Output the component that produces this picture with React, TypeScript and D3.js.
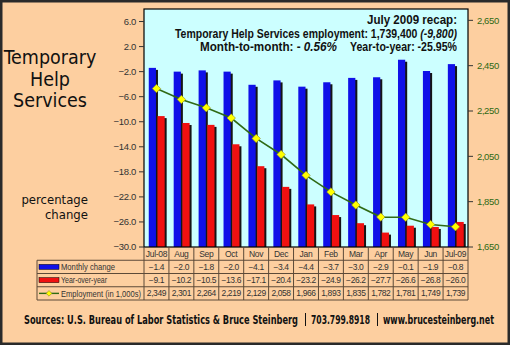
import React from "react";
import * as d3 from "d3";

const categories = ["Jul-08", "Aug", "Sep", "Oct", "Nov", "Dec", "Jan", "Feb", "Mar", "Apr", "May", "Jun", "Jul-09"];
const monthlyChange = [-1.4, -2.0, -1.8, -2.0, -4.1, -3.4, -4.4, -3.7, -3.0, -2.9, -0.1, -1.9, -0.8];
const yearOverYear = [-9.1, -10.2, -10.5, -13.6, -17.1, -20.4, -23.2, -24.9, -26.2, -27.7, -26.6, -26.8, -26.0];
const employment = [2349, 2301, 2264, 2219, 2129, 2058, 1966, 1893, 1835, 1782, 1781, 1749, 1739];
const leftTicks = [6, 2, -2, -6, -10, -14, -18, -22, -26, -30];
const rightTicks = [1650, 1850, 2050, 2250, 2450, 2650];
const seriesNames = ["Monthly change", "Year-over-year", "Employment (in 1,000s)"];

const W = 510;
const H = 345;
const P = { left: 144, right: 468, top: 9, bottom: 247 };
const ROW = 13.25;

const PEACH = "#FDCFA0";
const PLOTBG = "#CCFFFF";
const BLUE = "#1010E8";
const RED = "#F01010";
const GREEN = "#2F6A14";
const TABLE_LINE = "#5C4A38";
const ARIAL = "'Liberation Sans', Arial, sans-serif";
const SANS = "'DejaVu Sans Condensed', 'DejaVu Sans', sans-serif";

export default function App() {
  const x = d3.scaleBand<string>().domain(categories).range([P.left, P.right]);
  const yL = d3.scaleLinear().domain([-30, 8]).range([P.bottom, P.top]);
  const yR = d3.scaleLinear().domain([1650, 2700]).range([P.bottom, P.top]);
  const bw = x.bandwidth();
  const barW = 7.2;
  const cx = (c: string) => (x(c) as number) + bw / 2;
  const fmt1 = d3.format(".1f");
  const fmtC = d3.format(",");

  const line = d3
    .line<number>()
    .x((_, i) => cx(categories[i]))
    .y((d) => yR(d));

  const rowTops = [0, 1, 2, 3, 4].map((i) => P.bottom + i * ROW);
  const legendLeft = 37;
  const legendWidths = [54, 46, 80];

  const diamond = (px: number, py: number, r: number) =>
    `M${px},${py - r}L${px + r},${py}L${px},${py + r}L${px - r},${py}Z`;

  const rowValues = [
    monthlyChange.map(fmt1),
    yearOverYear.map(fmt1),
    employment.map(fmtC),
  ];

  return (
    <svg
      width={W}
      height={H}
      style={{ position: "absolute", left: 0, top: 0, display: "block" }}
    >
      <defs>
        <clipPath id="plotclip">
          <rect x={P.left} y={P.top} width={P.right - P.left} height={P.bottom - P.top} />
        </clipPath>
      </defs>
      <rect x={1.25} y={1.25} width={W - 2.5} height={H - 2.5} fill={PEACH} stroke="#2a2a2a" strokeWidth={2.5} />

      {/* plot area */}
      <rect x={P.left} y={P.top} width={P.right - P.left} height={P.bottom - P.top} fill={PLOTBG} />

      <g clipPath="url(#plotclip)">
        {categories.map((c, i) => {
          const xc = cx(c);
          const yb = yL(monthlyChange[i]);
          const yr = yL(yearOverYear[i]);
          return (
            <g key={c}>
              <rect x={xc - barW - 0.5 + 2} y={yb + 2} width={barW} height={P.bottom - yb} fill="#151515" />
              <rect x={xc - barW - 0.5} y={yb} width={barW} height={P.bottom - yb} fill={BLUE} />
              <rect x={xc + 1 + 2} y={yr + 2} width={barW} height={P.bottom - yr} fill="#151515" />
              <rect x={xc + 1} y={yr} width={barW} height={P.bottom - yr} fill={RED} />
            </g>
          );
        })}
        <path d={line(employment) || ""} fill="none" stroke={GREEN} strokeWidth={1.6} />
        {employment.map((v, i) => (
          <path
            key={i}
            d={diamond(cx(categories[i]), yR(v), 4.2)}
            fill="#FFFF00"
            stroke="#8A8A20"
            strokeWidth={0.6}
          />
        ))}
      </g>
      <rect x={P.left} y={P.top} width={P.right - P.left} height={P.bottom - P.top} fill="none" stroke="#000" strokeWidth={1.2} />

      {/* left axis */}
      {leftTicks.map((t) => (
        <g key={t}>
          <line x1={P.left - 5} x2={P.left} y1={yL(t)} y2={yL(t)} stroke="#333" strokeWidth={1} />
          <text
            x={P.left - 8}
            y={yL(t)}
            dy="0.35em"
            textAnchor="end"
            fontFamily={ARIAL}
            fontSize={9.5}
            letterSpacing={-0.3}
            fill="#333"
          >
            {fmt1(t)}
          </text>
        </g>
      ))}

      {/* right axis */}
      {rightTicks.map((t) => (
        <g key={t}>
          <line x1={P.right} x2={P.right + 5} y1={yR(t)} y2={yR(t)} stroke="#333" strokeWidth={1} />
          <text
            x={P.right + 9}
            y={yR(t)}
            dy="0.35em"
            textAnchor="start"
            fontFamily={ARIAL}
            fontSize={9.5}
            letterSpacing={-0.4}
            fill={GREEN}
          >
            {fmtC(t)}
          </text>
        </g>
      ))}

      {/* data table */}
      <g stroke={TABLE_LINE} strokeWidth={1} fill="none">
        {rowTops.slice(1).map((ry, i) => (
          <line key={"h" + i} x1={legendLeft} x2={P.right} y1={ry} y2={ry} />
        ))}
        <line x1={legendLeft} x2={legendLeft} y1={rowTops[1]} y2={rowTops[4]} />
        {categories.map((c) => (
          <line key={"v" + c} x1={x(c) as number} x2={x(c) as number} y1={rowTops[0]} y2={rowTops[4]} />
        ))}
        <line x1={P.right} x2={P.right} y1={rowTops[0]} y2={rowTops[4]} />
      </g>
      {categories.map((c) => (
        <text
          key={"cat" + c}
          x={cx(c)}
          y={rowTops[0] + ROW / 2}
          dy="0.35em"
          textAnchor="middle"
          fontFamily={ARIAL}
          fontSize={8.5}
          letterSpacing={-0.3}
          fill="#333"
        >
          {c}
        </text>
      ))}
      {rowValues.map((vals, r) =>
        vals.map((v, i) => (
          <text
            key={"v" + r + "-" + i}
            x={cx(categories[i])}
            y={rowTops[r + 1] + ROW / 2}
            dy="0.35em"
            textAnchor="middle"
            fontFamily={ARIAL}
            fontSize={8.5}
            letterSpacing={-0.4}
            fill="#333"
          >
            {v}
          </text>
        ))
      )}
      {/* legend keys */}
      <rect x={39} y={rowTops[1] + ROW / 2 - 2.5} width={20} height={5} fill={BLUE} stroke="#000" strokeWidth={0.5} />
      <rect x={39} y={rowTops[2] + ROW / 2 - 2.5} width={20} height={5} fill={RED} stroke="#000" strokeWidth={0.5} />
      <line x1={39} x2={59} y1={rowTops[3] + ROW / 2} y2={rowTops[3] + ROW / 2} stroke={GREEN} strokeWidth={1.4} />
      <path d={diamond(49, rowTops[3] + ROW / 2, 2.8)} fill="#FFFF00" stroke="#8A8A20" strokeWidth={0.6} />
      {seriesNames.map((s, i) => (
        <text
          key={s}
          x={61}
          y={rowTops[i + 1] + ROW / 2}
          dy="0.35em"
          fontFamily={ARIAL}
          fontSize={9}
          textLength={legendWidths[i]}
          lengthAdjust="spacingAndGlyphs"
          fill="#333"
        >
          {s}
        </text>
      ))}

      {/* left titles */}
      <g fontFamily={SANS} fontSize={19.5} fill="#111" textAnchor="middle">
        <text x={50} y={64}>Temporary</text>
        <text x={50} y={86}>Help</text>
        <text x={50} y={107}>Services</text>
      </g>
      <g fontFamily={SANS} fontSize={13} fill="#111" textAnchor="end">
        <text x={88} y={204}>percentage</text>
        <text x={88} y={219}>change</text>
      </g>

      {/* recap */}
      <g fontFamily={ARIAL} fontSize={13} fontWeight="bold" fill="#111">
        <text x={367} y={24} textLength={90} lengthAdjust="spacingAndGlyphs">July 2009 recap:</text>
        <text x={175} y={37.5} textLength={282} lengthAdjust="spacingAndGlyphs">
          Temporary Help Services employment: 1,739,400 <tspan fontStyle="italic">(-9,800)</tspan>
        </text>
        <text x={200} y={51} textLength={137} lengthAdjust="spacingAndGlyphs">
          Month-to-month:  - <tspan fontStyle="italic">0.56%</tspan>
        </text>
        <text x={350} y={51} textLength={107} lengthAdjust="spacingAndGlyphs">Year-to-year:  -25.95%</text>
      </g>

      {/* sources */}
      <g fontFamily={SANS} fontSize={12} fontWeight="bold" fill="#111">
        <text x={24} y={324} textLength={274} lengthAdjust="spacingAndGlyphs">
          Sources: U.S. Bureau of Labor Statistics &amp; Bruce Steinberg
        </text>
        <text x={311} y={324} textLength={59} lengthAdjust="spacingAndGlyphs">
          703.799.8918
        </text>
        <text x={383} y={324} textLength={111} lengthAdjust="spacingAndGlyphs">
          www.brucesteinberg.net
        </text>
      </g>
      <line x1={305.5} x2={305.5} y1={313} y2={326} stroke="#111" strokeWidth={1} />
      <line x1={377.5} x2={377.5} y1={313} y2={326} stroke="#111" strokeWidth={1} />
    </svg>
  );
}
